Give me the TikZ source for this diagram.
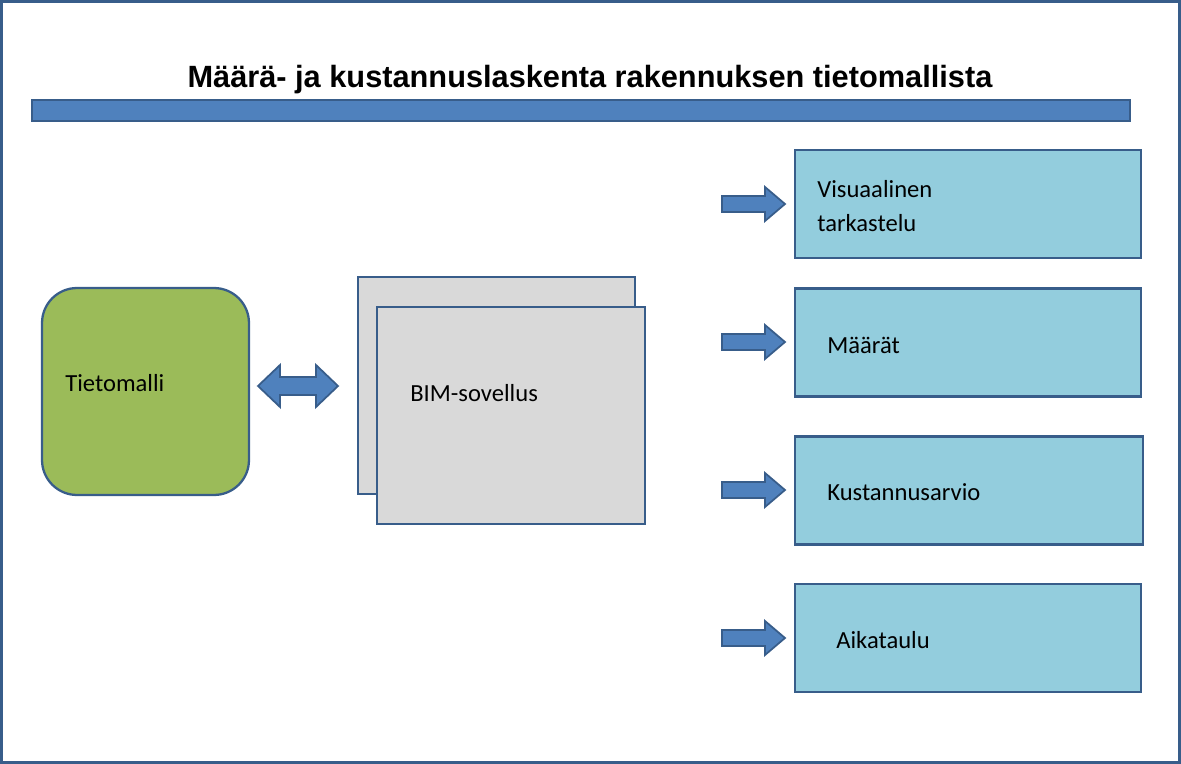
\documentclass[tikz,border=0pt]{standalone}
\usepackage{fontspec}
\setmainfont{Carlito}
\newfontfamily\titlefont{Liberation Sans}
\usetikzlibrary{positioning}

\definecolor{edgeblue}{HTML}{385D8A}
\definecolor{barblue}{HTML}{4F81BD}
\definecolor{modelgreen}{HTML}{9BBB59}
\definecolor{appgrey}{HTML}{D9D9D9}
\definecolor{outblue}{HTML}{93CDDD}

\tikzset{
  box/.style={draw=edgeblue,line width=1.3pt,minimum width=6.92cm,minimum height=2.16cm,fill=outblue},
  label/.style={font=\fontsize{14}{17}\selectfont,anchor=west,inner sep=0pt,align=left},
  arrowfill/.style={fill=barblue,draw=edgeblue,line width=1pt},
  pics/rarrow/.style={code={
    \draw[arrowfill] (0,-8) -- (43,-8) -- (43,-17) -- (63,0) -- (43,17) -- (43,8) -- (0,8) -- cycle;}}
}

\begin{document}
\begin{tikzpicture}[x=0.02cm,y=-0.02cm]
    \useasboundingbox (0,0) rectangle (1181,764);
    \draw[edgeblue,line width=1.5pt] (1.5,1.5) rectangle (1179.5,762.5);

    % title and bar
    \node (title) at (590,80) {\titlefont\bfseries\fontsize{17.5}{20}\selectfont M\"a\"ar\"a- ja kustannuslaskenta rakennuksen tietomallista};
    \draw[arrowfill] (32,100) rectangle (1130,121);

    % model and application
    \node[draw=edgeblue,line width=1.3pt,fill=modelgreen,rounded corners=0.7cm,
          minimum width=4.14cm,minimum height=4.14cm] (malli) at (145.5,391.5) {};
    \node[label] (mallitxt) at (65,383) {Tietomalli};

    \node[draw=edgeblue,line width=1.3pt,fill=appgrey,minimum width=5.54cm,minimum height=4.34cm] (bimback) at (496.5,385.5) {};
    \node[draw=edgeblue,line width=1.3pt,fill=appgrey,minimum width=5.36cm,minimum height=4.34cm] (bim) at (511,415.5) {};
    \node[label] (bimtxt) at (410,393) {BIM-sovellus};

    \draw[arrowfill] (258,386) -- (280,365) -- (280,377) -- (316,377) -- (316,365) -- (338,386)
        -- (316,407) -- (316,395) -- (280,395) -- (280,407) -- cycle;

    % outputs
    \node[box] (visu) at (968,204) {};
    \node[box] (maarat) at (968,342.5) {};
    \node[box,minimum width=6.96cm] (kust) at (969,490.5) {};
    \node[box] (aika) at (968,638) {};

    \node[label] at (817,206) {Visuaalinen\\[2pt]tarkastelu};
    \node[label] at (827,345) {M\"a\"ar\"at};
    \node[label] at (827,492) {Kustannusarvio};
    \node[label] at (836,640) {Aikataulu};

    \foreach \y in {204,342,490,638}
      \pic at (722,\y) {rarrow};
\end{tikzpicture}
\end{document}
